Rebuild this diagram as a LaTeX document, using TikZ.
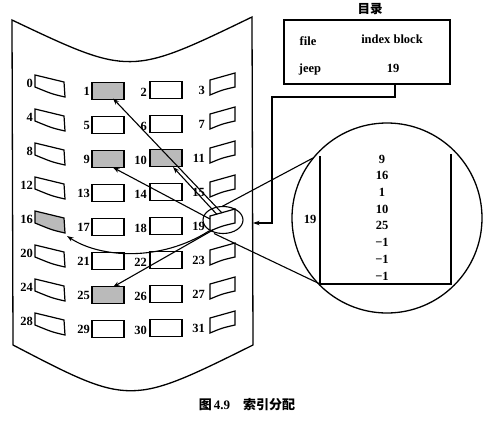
\documentclass[tikz,border=0pt]{standalone}
\usepackage{fontspec}
\setmainfont{Liberation Serif}
\newfontfamily\cjk{Noto Sans CJK SC}
\usetikzlibrary{arrows.meta}
\begin{document}
\begin{tikzpicture}[x=1pt,y=-1pt,
  every node/.style={inner sep=0pt, font=\fontsize{12.5}{12.5}\selectfont\bfseries},
  blk/.style={draw, line width=1.2pt},
  mid/.style={blk, minimum width=32pt, minimum height=16.5pt},
  ghost/.style={minimum width=28pt, minimum height=18pt},
  outline/.style={line width=1.3pt},
  conn/.style={line width=1.1pt},
  arr/.style={conn, -{Stealth[length=6.5pt,width=4.5pt]}},
  lbl/.style={anchor=east}]
\useasboundingbox (0,0) rectangle (488,421);

% disk surface
\draw[outline] (12,20) .. controls (130,76) .. (252,17) -- (253,345)
  .. controls (130,406) .. (13,345) -- cycle;

% blocks
\foreach \i in {0,...,7} {
  % column 0
  \pgfmathsetmacro\cy{85+34*\i}
  \pgfmathtruncatemacro\n{4*\i}
  \pgfmathtruncatemacro\f{ifthenelse(\n==16,27,0)}
  \node[ghost] (b\n) at (50,\cy) {};
  \draw[blk, fill=black!\f] (35,\cy-10) -- (64,\cy-3) -- (65,\cy+12)
     .. controls (52,\cy+9) .. (35,\cy+2) -- cycle;
  \node[lbl] (l\n) at (33,\cy-2) {\n};
  % column 1
  \pgfmathsetmacro\cy{91+34*\i}
  \pgfmathtruncatemacro\n{4*\i+1}
  \pgfmathtruncatemacro\f{ifthenelse(\n==1||\n==9||\n==25,27,0)}
  \node[mid, fill=black!\f] (b\n) at (108,\cy) {};
  \node[lbl] (l\n) at (90,\cy) {\n};
  % column 2
  \pgfmathsetmacro\cy{90+34*\i}
  \pgfmathtruncatemacro\n{4*\i+2}
  \pgfmathtruncatemacro\f{ifthenelse(\n==10,27,0)}
  \node[mid, fill=black!\f] (b\n) at (166,\cy) {};
  \node[lbl] (l\n) at (147,\cy+2) {\n};
  % column 3
  \pgfmathsetmacro\cy{84+34*\i}
  \pgfmathtruncatemacro\n{4*\i+3}
  \node[ghost] (b\n) at (223,\cy) {};
  \draw[blk] (210,\cy-4) -- (235,\cy-11) -- (235,\cy+3)
     .. controls (222,\cy+6) .. (210,\cy+11) -- cycle;
  \node[lbl] (l\n) at (205,\cy+6) {\n};
}

% loop around block 19
\draw[conn] (223,220) ellipse [x radius=20, y radius=13.5];

% pointers from index block 19
\coordinate (s1) at (222,213);
\coordinate (s10) at (217,214.5);
\coordinate (s9) at (210,219);
\coordinate (s16) at (209,231);
\coordinate (s25) at (213,230);
\coordinate (t1) at (113,98.5);
\coordinate (t10) at (173,167);
\coordinate (t9) at (113,167.5);
\coordinate (t16) at (67,236);
\coordinate (t25) at (113,287);
\draw[arr] (s1) -- (t1);
\draw[arr] (s10) -- (t10);
\draw[arr] (s9) -- (t9);
\draw[arr] (s16) .. controls (160,262) and (100,258) .. (t16);
\draw[arr] (s25) -- (t25);

% magnified index block
\node[circle, draw, line width=1.3pt, minimum size=190pt] (mag) at (387,218) {};
\coordinate (eTop) at (222,206.5);
\coordinate (eBot) at (214,233.5);
\coordinate (cTop) at (313,158);
\coordinate (cBot) at (320,284);
\draw[conn] (eTop) -- (cTop);
\draw[conn] (eBot) -- (cBot);
\draw[line width=1.2pt] (320,156) -- (320,284) -- (451,284) -- (451,154);
\node (i19) at (310,219) {19};
\foreach \v [count=\k from 0] in {9,16,1,10,25,−1,−1,−1}
  \node (v\k) at (382,159+16.7*\k) {\v};

% directory
\node (dtitle) at (370,9) {\cjk\bfseries 目录};
\node[draw, line width=1.2pt, minimum width=166pt, minimum height=64pt] (dir) at (367,52) {};
\node (hfile) at (308,41) {file};
\node (hidx) at (392,39) {index block};
\node (jeep) at (310,69) {jeep};
\node (j19) at (393,68) {19};
\coordinate (dout) at (395,84);
\coordinate (bend) at (272,223);
\coordinate (diskR) at (253,223);
\draw[arr] (dout) |- (272,97) -- (bend) -- (diskR);

% caption
\node[font=\fontsize{13}{13}\selectfont\bfseries] (cap) at (247,405)
  {{\cjk\bfseries 图}\,4.9\quad{\cjk\bfseries 索引分配}};
\end{tikzpicture}
\end{document}
